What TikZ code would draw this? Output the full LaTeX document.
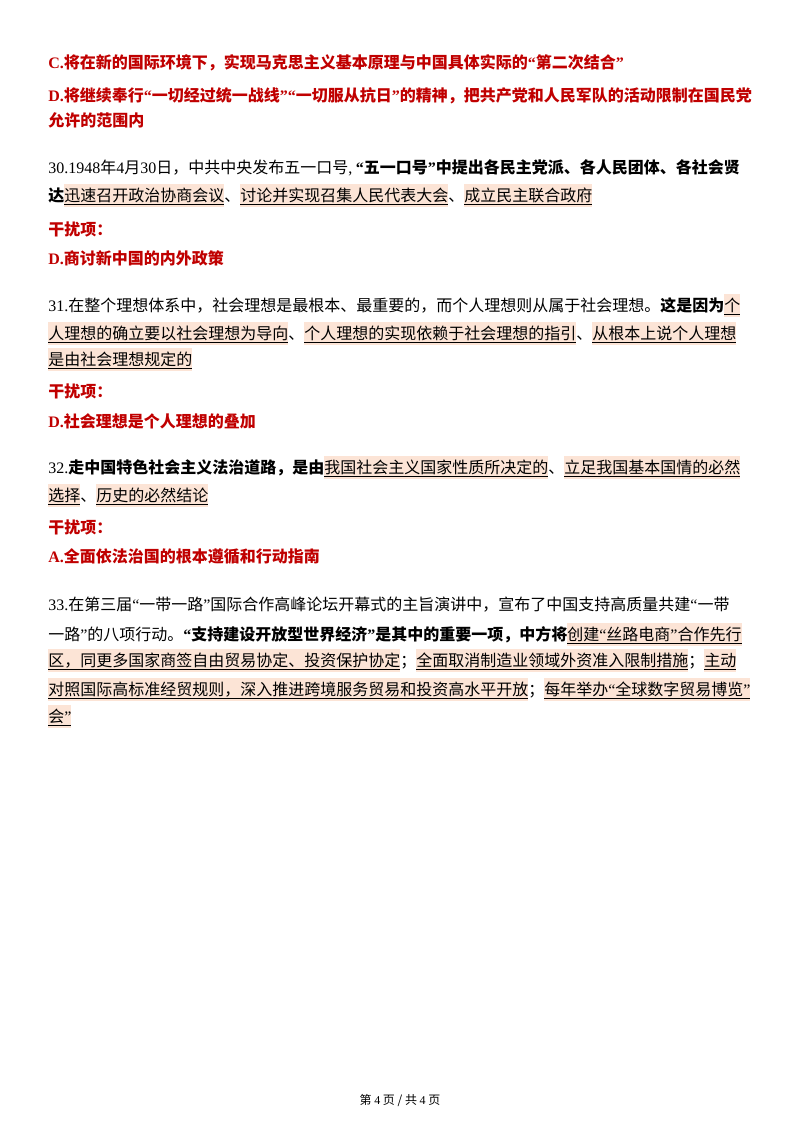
\documentclass[tikz,border=0pt]{standalone}
\usepackage{fontspec}
\setmainfont{Noto Sans CJK SC}
\newfontfamily\tm{Liberation Serif}
\definecolor{rd}{HTML}{C00000}
\definecolor{hlc}{HTML}{FCE4D6}
\newcommand\q[1]{{\tm “}#1{\tm ”}}
\newcommand\hl[1]{{\setlength\fboxsep{0pt}\colorbox{hlc}{\vrule height 1.05em depth 0.4em width 0pt\underline{#1}}}}
\begin{document}
\begin{tikzpicture}[x=0.75pt,y=-0.75pt,
  ln/.style={anchor=base west,inner sep=0pt,font=\fontsize{12.0}{14}\selectfont},
  rl/.style={ln,text=rd,font=\fontsize{12.0}{14}\selectfont\bfseries}]
\fill[white] (0,0) rectangle (800,1132);
\useasboundingbox (0,0) rectangle (800,1132);
\node[rl] (l1) at (48,68) {{\tm C.}将在新的国际环境下，实现马克思主义基本原理与中国具体实际的\q{第二次结合}};
\node[rl] (l2) at (48,101) {{\tm D.}将继续奉行\q{一切经过统一战线}\q{一切服从抗日}的精神，把共产党和人民军队的活动限制在国民党};
\node[rl] (l3) at (48,126) {允许的范围内};
\node[ln] (l4) at (48,173) {{\tm 30.1948}年{\tm 4}月{\tm 30}日，中共中央发布五一口号{\tm ,} \textbf{\q{五一口号}中提出各民主党派、各人民团体、各社会贤}};
\node[ln] (l5) at (48,201) {\textbf{达}\hl{迅速召开政治协商会议}、\hl{讨论并实现召集人民代表大会}、\hl{成立民主联合政府}};
\node[rl] (l6) at (48,235) {干扰项：};
\node[rl] (l7) at (48,264) {{\tm D.}商讨新中国的内外政策};
\node[ln] (l8) at (48,311) {{\tm 31.}在整个理想体系中，社会理想是最根本、最重要的，而个人理想则从属于社会理想。\textbf{这是因为}\hl{个}};
\node[ln] (l9) at (48,339) {\hl{人理想的确立要以社会理想为导向}、\hl{个人理想的实现依赖于社会理想的指引}、\hl{从根本上说个人理想}};
\node[ln] (l10) at (48,365) {\hl{是由社会理想规定的}};
\node[rl] (l11) at (48,397) {干扰项：};
\node[rl] (l12) at (48,427) {{\tm D.}社会理想是个人理想的叠加};
\node[ln] (l13) at (48,473) {{\tm 32.}\textbf{走中国特色社会主义法治道路，是由}\hl{我国社会主义国家性质所决定的}、\hl{立足我国基本国情的必然}};
\node[ln] (l14) at (48,501) {\hl{选择}、\hl{历史的必然结论}};
\node[rl] (l15) at (48,533) {干扰项：};
\node[rl] (l16) at (48,562) {{\tm A.}全面依法治国的根本遵循和行动指南};
\node[ln] (l17) at (48,610) {{\tm 33.}在第三届\q{一带一路}国际合作高峰论坛开幕式的主旨演讲中，宣布了中国支持高质量共建{\tm “}一带};
\node[ln] (l18) at (48,640) {一路{\tm ”}的八项行动。\textbf{\q{支持建设开放型世界经济}是其中的重要一项，中方将}\hl{创建\q{丝路电商}合作先行}};
\node[ln] (l19) at (48,666) {\hl{区，同更多国家商签自由贸易协定、投资保护协定}；\hl{全面取消制造业领域外资准入限制措施}；\hl{主动}};
\node[ln] (l20) at (48,695) {\hl{对照国际高标准经贸规则，深入推进跨境服务贸易和投资高水平开放}；\hl{每年举办\q{全球数字贸易博览}}};
\node[ln] (l21) at (48,722) {\hl{会{\tm ”}}};
\node[anchor=base,inner sep=0pt,font=\fontsize{9}{11}\selectfont] (ft) at (400,1104) {第 {\tm 4} 页 / 共 {\tm 4} 页};
\end{tikzpicture}
\end{document}
